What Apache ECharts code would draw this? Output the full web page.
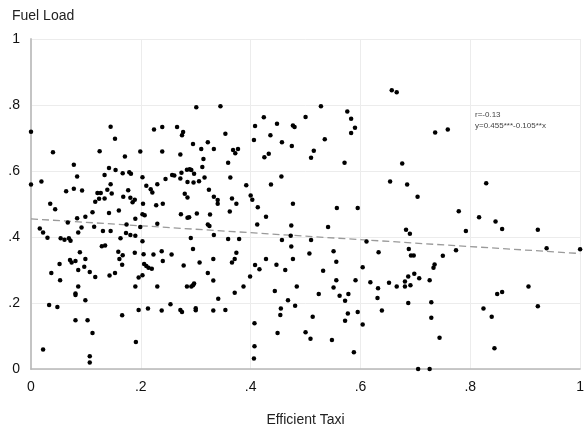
<!DOCTYPE html>
<html>
<head>
<meta charset="utf-8">
<script src="https://cdn.jsdelivr.net/npm/echarts@6/dist/echarts.min.js"></script>
<style>
  html, body { margin: 0; padding: 0; background: #fff; }
  #chart { width: 587px; height: 432px; }
</style>
</head>
<body>
<div id="chart"></div>
<script>
// [efficient taxi, fuel load]
const observations = [
  [0,0.719],[0.145,0.734],[0.224,0.726],[0.153,0.698],[0.040,0.657],[0.125,0.660],[0.199,0.659],[0.171,0.644],
  [0.078,0.619],[0.142,0.609],[0.154,0.603],[0.167,0.593],[0.179,0.596],[0.182,0.592],[0.134,0.588],[0.084,0.583],
  [0.203,0.581],[0,0.559],[0.019,0.568],[0.145,0.560],[0.210,0.555],[0.230,0.560],[0.064,0.539],[0.078,0.546],
  [0.093,0.541],[0.139,0.543],[0.218,0.545],[0.221,0.535],[0.121,0.533],[0.127,0.533],[0.147,0.532],[0.177,0.542],
  [0.168,0.522],[0.181,0.519],[0.134,0.517],[0.124,0.516],[0.117,0.507],[0.189,0.513],[0.185,0.505],[0.204,0.501],
  [0.228,0.496],[0.035,0.501],[0.044,0.484],[0.160,0.480],[0.142,0.473],[0.112,0.475],[0.099,0.461],[0.084,0.457],
  [0.203,0.469],[0.207,0.466],[0.190,0.455],[0.067,0.444],[0.230,0.440],[0.174,0.438],
  [0.016,0.426],[0.022,0.414],[0.030,0.398],[0.086,0.414],[0.092,0.429],[0.115,0.431],[0.131,0.418],[0.145,0.418],
  [0.173,0.412],[0.181,0.406],[0.190,0.404],[0.199,0.430],[0.163,0.396],[0.203,0.387],[0.054,0.396],[0.061,0.392],
  [0.069,0.396],[0.072,0.389],[0.129,0.372],[0.135,0.374],[0.089,0.354],[0.159,0.355],[0.167,0.345],[0.161,0.333],
  [0.166,0.316],[0.189,0.352],[0.205,0.348],[0.223,0.347],[0.071,0.330],[0.074,0.323],[0.081,0.327],[0.099,0.333],
  [0.052,0.318],[0.086,0.300],[0.097,0.310],[0.107,0.294],[0.117,0.279],[0.143,0.283],[0.153,0.291],[0.206,0.318],
  [0.210,0.312],[0.214,0.307],[0.220,0.304],[0.203,0.284],[0.196,0.277],[0.037,0.291],[0.053,0.269],[0.086,0.250],
  [0.081,0.229],[0.081,0.224],[0.099,0.208],[0.190,0.250],[0.230,0.250],[0.033,0.194],[0.048,0.188],[0.166,0.163],
  [0.196,0.179],[0.213,0.183],[0.081,0.148],[0.103,0.148],[0.112,0.109],[0.191,0.082],[0.022,0.059],[0.107,0.039],
  [0.107,0.020],
  [0.301,0.793],[0.345,0.796],[0.239,0.733],[0.266,0.733],[0.277,0.718],[0.275,0.708],[0.354,0.713],[0.239,0.659],
  [0.272,0.650],[0.295,0.682],[0.310,0.667],[0.322,0.687],[0.333,0.667],[0.368,0.664],[0.372,0.654],[0.377,0.667],
  [0.314,0.636],[0.312,0.612],[0.359,0.625],[0.284,0.604],[0.289,0.605],[0.292,0.603],[0.297,0.592],[0.274,0.595],
  [0.245,0.576],[0.257,0.588],[0.261,0.586],[0.272,0.577],[0.285,0.567],[0.296,0.565],[0.306,0.569],[0.316,0.580],
  [0.363,0.580],[0.280,0.531],[0.285,0.520],[0.324,0.543],[0.333,0.522],[0.340,0.512],[0.340,0.501],[0.366,0.517],
  [0.374,0.501],[0.392,0.557],[0.400,0.526],[0.403,0.513],[0.413,0.490],[0.240,0.501],[0.362,0.477],[0.273,0.469],
  [0.285,0.458],[0.288,0.460],[0.302,0.471],[0.326,0.468],[0.322,0.438],[0.325,0.433],[0.412,0.438],[0.428,0.461],
  [0.408,0.736],[0.424,0.763],[0.448,0.743],[0.436,0.708],[0.406,0.694],[0.457,0.687],[0.475,0.676],[0.477,0.738],
  [0.480,0.733],[0.425,0.642],[0.433,0.652],[0.456,0.583],[0.437,0.559],[0.477,0.501],[0.474,0.435],
  [0.333,0.406],[0.473,0.404],[0.291,0.397],[0.359,0.394],[0.379,0.394],[0.457,0.391],[0.295,0.364],[0.474,0.371],
  [0.238,0.357],[0.256,0.347],[0.240,0.327],[0.278,0.314],[0.307,0.323],[0.332,0.333],[0.366,0.323],[0.371,0.333],
  [0.374,0.352],[0.322,0.291],[0.332,0.268],[0.408,0.315],[0.416,0.302],[0.428,0.333],[0.447,0.316],[0.463,0.300],
  [0.477,0.333],[0.399,0.280],[0.284,0.250],[0.292,0.250],[0.295,0.254],[0.297,0.259],[0.387,0.250],[0.371,0.231],
  [0.341,0.213],[0.444,0.236],[0.468,0.208],[0.484,0.250],[0.481,0.192],[0.238,0.177],[0.254,0.196],[0.272,0.179],
  [0.275,0.173],[0.300,0.184],[0.300,0.178],[0.332,0.177],[0.354,0.179],[0.455,0.183],[0.454,0.164],[0.407,0.139],
  [0.449,0.109],[0.407,0.069],[0.406,0.032],
  [0.657,0.845],[0.666,0.839],[0.528,0.796],[0.500,0.764],[0.576,0.780],[0.583,0.758],[0.590,0.731],[0.583,0.715],
  [0.535,0.696],[0.515,0.661],[0.510,0.640],[0.571,0.625],[0.736,0.717],[0.676,0.623],[0.654,0.568],[0.685,0.559],
  [0.704,0.522],[0.557,0.488],[0.595,0.488],[0.541,0.430],
  [0.683,0.422],[0.690,0.410],[0.510,0.391],[0.611,0.386],[0.507,0.350],[0.551,0.357],[0.556,0.325],[0.633,0.354],
  [0.688,0.364],[0.692,0.344],[0.697,0.344],[0.532,0.298],[0.604,0.308],[0.556,0.269],[0.591,0.269],[0.551,0.247],
  [0.618,0.263],[0.632,0.245],[0.652,0.261],[0.666,0.250],[0.681,0.265],[0.681,0.250],[0.691,0.254],[0.687,0.280],
  [0.698,0.289],[0.707,0.275],[0.726,0.269],[0.733,0.307],[0.735,0.317],[0.524,0.227],[0.562,0.222],[0.572,0.207],
  [0.578,0.227],[0.631,0.215],[0.687,0.200],[0.729,0.202],[0.513,0.158],[0.577,0.168],[0.595,0.173],[0.572,0.146],
  [0.639,0.177],[0.604,0.135],[0.729,0.155],[0.500,0.111],[0.509,0.092],[0.548,0.088],[0.588,0.051],[0.744,0.095],
  [0.705,0],[0.726,0],
  [0.759,0.726],[0.829,0.563],[0.779,0.478],[0.816,0.460],[0.846,0.447],
  [0.792,0.418],[0.858,0.424],[0.923,0.422],[0.750,0.343],[0.774,0.360],[0.939,0.366],[1.0,0.363],[0.849,0.227],
  [0.858,0.233],[0.906,0.250],[0.824,0.183],[0.923,0.190],[0.839,0.158],[0.844,0.063]
]

const fitIntercept = 0.455
const fitSlope = -0.105
const fitR = -0.13
const tickLabels = ['0', '.2', '.4', '.6', '.8', '1']

const fitLine = [0, 1].map(x => [x, fitIntercept + fitSlope * x])

function tickLabel(v) {
  return tickLabels[Math.round(v / 0.2)]
}

const font = '"Liberation Sans", Arial, Helvetica, sans-serif'
const chart = echarts.init(document.getElementById('chart'))

chart.setOption({
  animation: false,
  backgroundColor: '#fff',
  grid: { left: 31, right: 3, top: 39, bottom: 56 },
  xAxis: {
    type: 'value',
    min: 0,
    max: 1,
    interval: 0.2,
    name: 'Efficient Taxi',
    nameLocation: 'middle',
    nameGap: 44,
    nameTextStyle: { color: '#222', fontSize: 14, fontFamily: font },
    axisLine: { show: true, lineStyle: { color: '#b8b8b8', width: 1.5 } },
    axisTick: { show: false },
    axisLabel: { color: '#111', fontSize: 14, fontFamily: font, margin: 11, formatter: tickLabel },
    splitLine: { show: true, lineStyle: { color: '#ececec', width: 1 } }
  },
  yAxis: {
    type: 'value',
    min: 0,
    max: 1,
    interval: 0.2,
    axisLine: { show: true, lineStyle: { color: '#c4c4c4', width: 2 } },
    axisTick: { show: false },
    axisLabel: { color: '#111', fontSize: 14, fontFamily: font, margin: 11, formatter: tickLabel },
    splitLine: { show: true, lineStyle: { color: '#ececec', width: 1 } }
  },
  graphic: [
    {
      type: 'text', left: 12, top: 9,
      style: { text: 'Fuel Load', fill: '#222', fontSize: 14, fontFamily: font }
    },
    {
      type: 'text', left: 475, top: 109,
      style: {
        text: 'r=' + fitR + '\ny=' + fitIntercept + '***' + fitSlope + '**x',
        fill: '#444', fontSize: 8, lineHeight: 11, fontFamily: font
      }
    }
  ],
  series: [
    {
      type: 'scatter',
      data: observations,
      symbolSize: 4.5,
      itemStyle: { color: '#000', opacity: 1 },
      z: 3
    },
    {
      type: 'line',
      data: fitLine,
      symbol: 'none',
      lineStyle: { color: '#9a9a9a', width: 1.3, type: [7, 4] },
      z: 2
    }
  ]
})
</script>
</body>
</html>
